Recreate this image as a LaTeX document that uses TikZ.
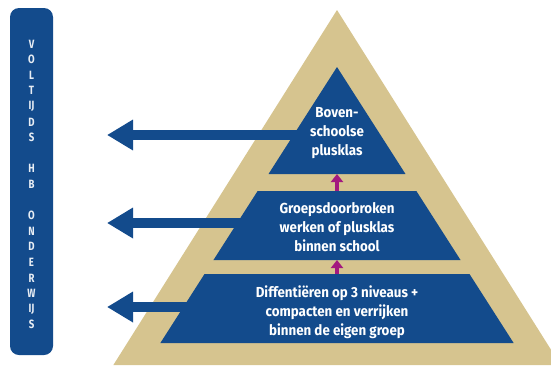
\documentclass[tikz,border=0pt]{standalone}
\usepackage{fontspec}
\setmainfont{Fira Sans}
\newfontfamily\hepfont{Fira Sans}[FakeStretch=0.92]
\newfontfamily\hepdoc{Fira Sans}[FakeStretch=0.8]
\usetikzlibrary{arrows.meta}
\definecolor{xanhdam}{HTML}{134B8C}
\definecolor{vang}{HTML}{D6C48F}
\definecolor{tim}{HTML}{A3197F}
\begin{document}
\begin{tikzpicture}[x=1pt,y=-1pt,every node/.style={text=white,inner sep=0pt,align=center,font=\hepfont\bfseries\fontsize{14.5}{19}\selectfont},muiten/.style={xanhdam,line width=10pt,-{Triangle[length=26pt,width=29pt]}},muitentim/.style={tim,line width=4pt,-{Triangle[length=8pt,width=12pt]}},chudoc/.style={font=\hepdoc\bfseries\fontsize{12}{12}\selectfont,text=white!90!xanhdam}]
                \useasboundingbox (0,0) rectangle (551,365);
                \clip (0,0) rectangle (551,365);
                \def\mcx{337} %Tâm tháp
                \def\mhs{0.64} %Độ dốc
                % Cột bên trái
                \fill[xanhdam,rounded corners=9pt] (10,8) rectangle (53,355);
                \foreach \k/\mch in {0/V,1/O,2/L,3/T,4/IJ,5/D,6/S,8/H,9/B,11/O,12/N,13/D,14/E,15/R,16/W,17/IJ,18/S} \path node[chudoc] (chu\k) at (31.5,44+\k*15.6) {\mch};
                % Tháp
                \fill[vang] (\mcx,10)--({\mcx-0.63*355},365)--({\mcx+0.63*355},365)--cycle;
                \fill[xanhdam] (\mcx,67)--({\mcx-\mhs*107},174)--({\mcx+\mhs*107},174)--cycle;
                \foreach \mtren/\mduoi in {191/260,274/343}
                \fill[xanhdam] ({\mcx-\mhs*(\mtren-67)},\mtren)--({\mcx+\mhs*(\mtren-67)},\mtren)--({\mcx+\mhs*(\mduoi-67)},\mduoi)--({\mcx-\mhs*(\mduoi-67)},\mduoi)--cycle;
                \foreach \i/\y/\x in {1/135/310,2/223/260,3/307/200}{
                    \coordinate (goc\i) at (\x,\y);
                    \coordinate (dau\i) at (107,\y);
                    \draw[muiten] (goc\i)--(dau\i);
                }
                \coordinate (day1) at (\mcx,174); \coordinate (dinh2) at (\mcx,191);
                \coordinate (day2) at (\mcx,260); \coordinate (dinh3) at (\mcx,274);
                \draw[muitentim] (dinh2)--(day1);
                \draw[muitentim] (dinh3)--(day2);
                \path node (tang1) at (\mcx,133) {Boven-\\schoolse\\plusklas}
                      node (tang2) at (\mcx,227) {Groepsdoorbroken\\werken of plusklas\\binnen school}
                      node (tang3) at (\mcx,312) {Diffentiëren op 3 niveaus +\\compacten en verrijken\\binnen de eigen groep};
            \end{tikzpicture}
\end{document}
